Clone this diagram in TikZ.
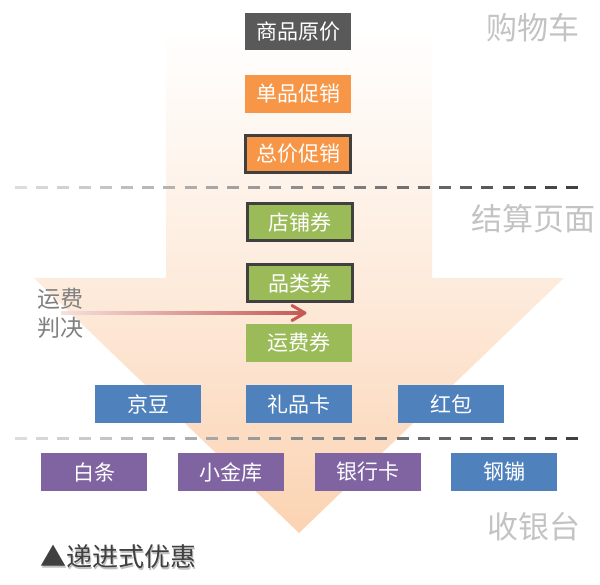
\documentclass[tikz,border=0pt]{standalone}
\usepackage{fontspec}
\setmainfont{Noto Sans CJK SC}
\definecolor{cdark}{HTML}{595959}
\definecolor{corange}{HTML}{F79646}
\definecolor{cgreen}{HTML}{9BBB59}
\definecolor{cblue}{HTML}{4F81BD}
\definecolor{cpurple}{HTML}{8064A2}
\definecolor{cborder}{HTML}{404040}
\definecolor{cpeach}{HTML}{FBD3B2}
\definecolor{clabel}{HTML}{C3C3C3}
\definecolor{cside}{HTML}{808080}
\definecolor{cdashlt}{HTML}{DCDCDC}
\definecolor{cdashdk}{HTML}{404040}
\definecolor{carrowlt}{HTML}{F5E0E0}
\definecolor{carrowdk}{HTML}{C55A55}
\tikzset{
  boxbase/.style={minimum width=106pt, minimum height=38pt, inner sep=0pt, text=white,
    font=\fontsize{21}{25}\selectfont},
  framed/.style={boxbase, draw=cborder, line width=3pt, minimum width=105pt, minimum height=37pt},
  stage/.style={text=clabel, font=\fontsize{31}{36}\selectfont, inner sep=0pt},
}
\begin{document}
\begin{tikzpicture}[x=1pt,y=-1pt]
\useasboundingbox (0,0) rectangle (600,585);
% big arrow
\shade[top color=white, bottom color=cpeach, middle color=cpeach!45]
  (166,30) -- (432,30) -- (432,278) -- (564,278) -- (299,533) -- (34,278) -- (166,278) -- cycle;
% dashed separators
\foreach \yy in {188,438}{
  \foreach \i in {0,...,26}{
    \pgfmathtruncatemacro\p{100*\i/26}
    \pgfmathsetmacro\xx{15+\i*21.2}
    \draw[line width=3pt, color=cdashdk!\p!cdashlt] (\xx,\yy) -- ++(12,0);
  }
}
% boxes
\node[boxbase, fill=cdark, minimum height=37pt] (yj) at (298,32) {商品原价};
\node[boxbase, fill=corange] (dp) at (298,94) {单品促销};
\node[framed, fill=corange] (zj) at (298,154) {总价促销};
\node[framed, fill=cgreen] (dq) at (300,222) {店铺券};
\node[framed, fill=cgreen] (plq) at (300,283) {品类券};
\node[boxbase, fill=cgreen] (yfq) at (299,343) {运费券};
\node[boxbase, fill=cblue] (jd) at (148,404) {京豆};
\node[boxbase, fill=cblue] (lpk) at (299,404) {礼品卡};
\node[boxbase, fill=cblue] (hb) at (451,404) {红包};
\node[boxbase, fill=cpurple] (bt) at (94,472) {白条};
\node[boxbase, fill=cpurple] (xjk) at (231,472) {小金库};
\node[boxbase, fill=cpurple] (yhk) at (368,472) {银行卡};
\node[boxbase, fill=cblue] (gb) at (504,472) {钢镚};
% stage labels
\node[stage] (s1) at (533,28) {购物车};
\node[stage] (s2) at (533,219) {结算页面};
\node[stage] (s3) at (534,527) {收银台};
% side label
\node[text=cside, font=\fontsize{23}{29}\selectfont, align=left, inner sep=0pt] (yf) at (60,313) {运费\\判决};
% red arrow
\coordinate (fs) at (61,313);
\coordinate (fe) at (305,313);
\shade[left color=carrowlt, right color=carrowdk] ([yshift=1.6pt]fs) rectangle ([yshift=-1.6pt,xshift=-2pt]fe);
\draw[carrowdk, line width=3pt, line cap=round, line join=round]
  ([xshift=-13pt,yshift=7.5pt]fe) -- (fe) -- ([xshift=-13pt,yshift=-7.5pt]fe);
% title
\node[text=black!25, font=\fontsize{26}{30}\selectfont, inner sep=0pt, anchor=west] at (41.5,558.5) {▲递进式优惠};
\node[text=cborder, font=\fontsize{26}{30}\selectfont, inner sep=0pt, anchor=west] (title) at (40,557) {▲递进式优惠};
\end{tikzpicture}
\end{document}
